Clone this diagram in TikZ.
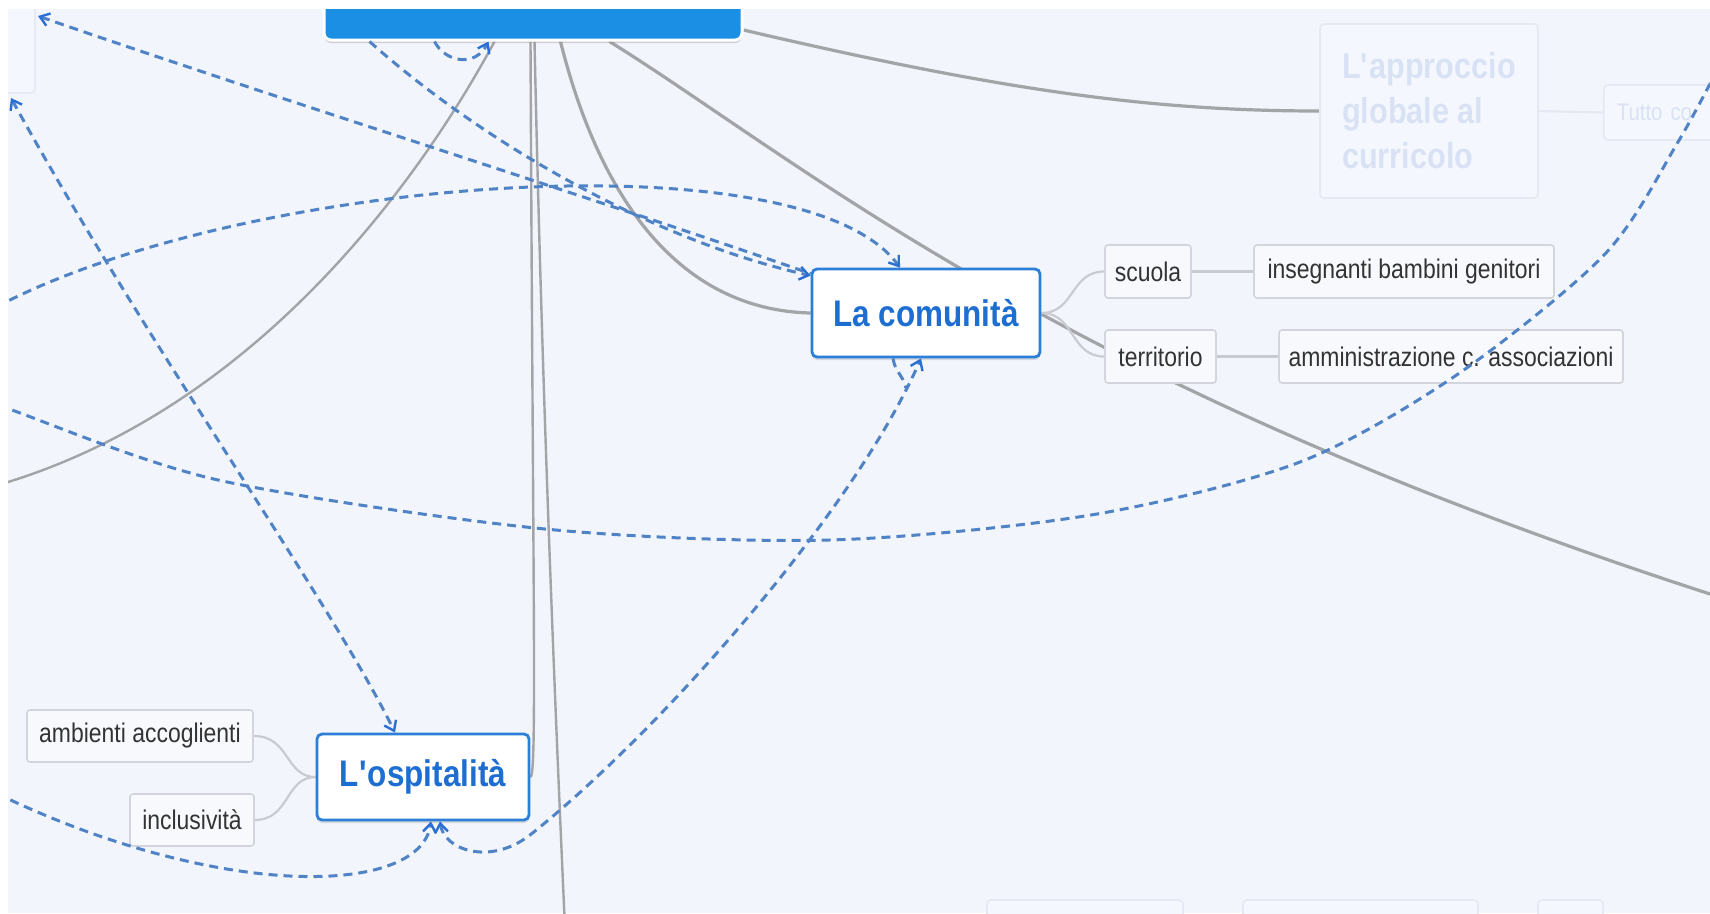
\documentclass[tikz,border=0pt]{standalone}
\usepackage{fontspec}
\setmainfont{Liberation Sans}[FakeStretch=0.85]
\usetikzlibrary{arrows.meta,shadows}
\definecolor{bgc}{HTML}{F2F5FC}
\definecolor{mainblue}{HTML}{1B8FE4}
\definecolor{topicborder}{HTML}{2C7FD8}
\definecolor{topictext}{HTML}{1D6ED2}
\definecolor{subborder}{HTML}{D2D5DB}
\definecolor{subfill}{HTML}{F8F9FC}
\definecolor{subtext}{HTML}{333333}
\definecolor{graylin}{HTML}{A3A4A8}
\definecolor{twigcol}{HTML}{C9CBD0}
\definecolor{relcol}{HTML}{4F83C6}
\definecolor{tipcol}{HTML}{2B6FD4}
\definecolor{faintborder}{HTML}{E4E9F3}
\definecolor{faintfill}{HTML}{F4F7FD}
\definecolor{fainttext}{HTML}{D9E2F4}
\pgfdeclarelayer{back}
\pgfsetlayers{back,main}
\newcommand{\apos}{\textquotesingle}
\begin{document}
\begin{tikzpicture}[x=1pt,y=-1pt,
  >={Straight Barb[length=9pt,width=13pt,line width=2.4pt,color=tipcol]},
  mainbox/.style={fill=mainblue, draw=white, line width=3pt, rounded corners=7pt, drop shadow={shadow xshift=0pt,shadow yshift=-3pt,opacity=.3}},
  topic/.style={draw=topicborder, line width=2.8pt, fill=white, rounded corners=5pt, text=topictext, font=\bfseries\fontsize{37}{44}\selectfont, inner sep=0pt, drop shadow={shadow xshift=0pt,shadow yshift=-3pt,opacity=.25}},
  sub/.style={draw=subborder, line width=1.6pt, fill=subfill, rounded corners=3pt, text=subtext, font=\fontsize{27}{32}\selectfont, inner sep=0pt, minimum height=53pt},
  faint/.style={draw=faintborder, line width=1.6pt, fill=faintfill, rounded corners=4pt, text=fainttext, inner sep=0pt},
  branch/.style={draw=graylin, line width=3.2pt},
  thinbranch/.style={draw=graylin, line width=2.4pt},
  twig/.style={draw=twigcol, line width=2.2pt},
  rel/.style={draw=relcol, line width=3pt, dash pattern=on 9pt off 6pt},
]
\useasboundingbox (0,0) rectangle (1710,913);
\begin{pgfonlayer}{back}
\fill[bgc] (0,0) rectangle (1710,913);
\end{pgfonlayer}

% faint nodes
\node[faint, minimum width=90pt, minimum height=110pt] (lbox) at (-10,38) {};
\node[faint, minimum width=218pt, minimum height=174pt, align=left, font=\bfseries\fontsize{36}{45}\selectfont] (app) at (1429,111) {L\apos approccio\\globale al\\curricolo};
\node[faint, anchor=west, minimum width=160pt, minimum height=55pt, text width=150pt, align=left, font=\fontsize{24}{28}\selectfont] (tut) at (1603,112.5) {\hspace*{8pt}Tutto co};
\node[faint, minimum width=196pt, minimum height=60pt] (bb1) at (1085,930) {};
\node[faint, minimum width=235pt, minimum height=60pt] (bb2) at (1360.5,930) {};
\node[faint, minimum width=65pt, minimum height=60pt] (bb3) at (1570.5,930) {};

% main nodes
\node[mainbox, minimum width=418pt, minimum height=60pt] (main) at (533,10) {};
\node[topic, minimum width=228pt, minimum height=88pt] (com) at (926,313) {La comunità};
\node[topic, minimum width=212pt, minimum height=86pt] (osp) at (423,777) {L\apos ospitalità};
\node[sub, minimum width=86pt] (scu) at (1148,271.5) {scuola};
\node[sub, minimum width=300pt] (ins) at (1404,271.5) {insegnanti bambini genitori};
\node[sub, minimum width=111pt] (ter) at (1160.5,356.5) {territorio};
\node[sub, minimum width=344pt] (amm) at (1451,356.5) {amministrazione c. associazioni};
\node[sub, minimum width=226pt, minimum height=52pt] (amb) at (140,736) {ambienti accoglienti};
\node[sub, minimum width=124pt, minimum height=52pt] (inc) at (192,820) {inclusività};

\coordinate (aEnd) at (-20,490);
\coordinate (cEnd) at (566,950);
\coordinate (eEnd) at (1710,594);
\coordinate (aL) at (38,16);
\coordinate (cL) at (-30,322);
\coordinate (dL) at (11,98);
\coordinate (gL) at (-30,780);

\begin{pgfonlayer}{back}
\draw[thinbranch] ([xshift=172pt]main.south west) .. controls (420,180) and (250,420) .. (aEnd);
\draw[thinbranch] ([xshift=208pt]main.south west) .. controls (533,600) and (537,777) .. (osp.east);
\draw[thinbranch] ([xshift=212pt]main.south west) .. controls (540,300) and (550,600) .. (cEnd);
\draw[branch] ([xshift=238pt]main.south west) .. controls (600,200) and (680,310) .. (com.west);
\draw[branch] ([xshift=287pt]main.south west) .. controls (800,160) and (1050,380) .. (eEnd);
\draw[branch] ([yshift=-20pt]main.east) .. controls (1000,90) and (1150,111) .. (app.west);
\draw[twig] (com.east) .. controls (1075,313) and (1070,271.5) .. (scu.west);
\draw[twig] (com.east) .. controls (1075,313) and (1070,356.5) .. (ter.west);
\draw[twig] (scu.east) -- (ins.west);
\draw[twig] (ter.east) -- (amm.west);
\draw[twig] (osp.west) .. controls (285,777) and (290,736) .. (amb.east);
\draw[twig] (osp.west) .. controls (285,777) and (290,820) .. (inc.east);
\draw[twig, draw=faintborder] (app.east) -- (tut.west);
\end{pgfonlayer}

% relationship lines
\draw[rel, <-] (aL) .. controls (250,90) and (600,200) .. ([yshift=-6pt]com.north west);
\draw[rel, ->] ([xshift=47pt]main.south west) .. controls (480,140) and (650,240) .. ([yshift=-8pt]com.north west);
\draw[rel, ->] ([xshift=112pt]main.south west) .. controls (445,62) and (475,68) .. ([xshift=166pt]main.south west);
\draw[rel, ->] (cL) .. controls (200,180) and (800,130) .. ([xshift=-26pt]com.north);
\draw[rel, <->] (dL) .. controls (150,350) and (330,600) .. ([xshift=-28pt]osp.north);
\draw[rel] plot[smooth] coordinates {(-30,395) (9,409) (218,480) (545,529) (829,540) (1091,515) (1300,462) (1458,374) (1605,254) (1678,142) (1725,55)};
\draw[rel, <->] ([xshift=17pt]osp.south) .. controls (444,850) and (490,866) .. (530,835) .. controls (650,740) and (850,520) .. ([xshift=-5pt]com.south);
\draw[rel] ([xshift=-33pt]com.south) .. controls (895,372) and (903,375) .. (906,388);
\draw[rel, ->] (gL) .. controls (200,900) and (420,900) .. ([xshift=8pt]osp.south);

% white screenshot margins
\fill[white] (0,0) rectangle (1710,9);
\fill[white] (0,0) rectangle (8,913);
\end{tikzpicture}
\end{document}
